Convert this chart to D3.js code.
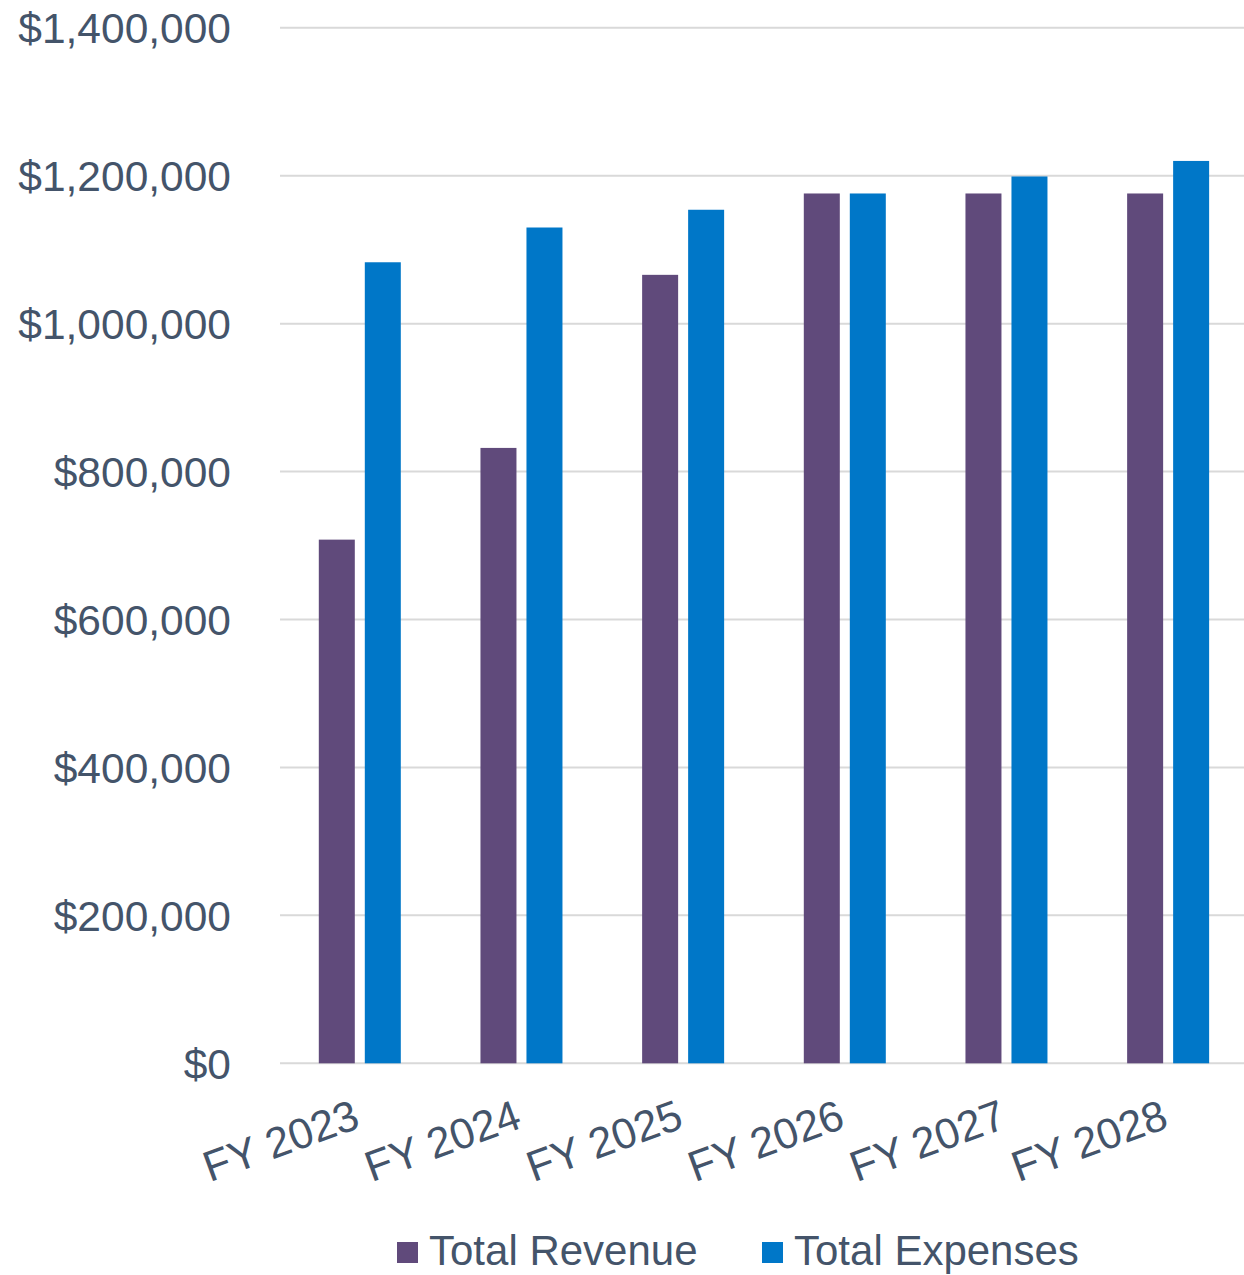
<!DOCTYPE html>
<html>
<head>
<meta charset="utf-8">
<script src="https://cdn.jsdelivr.net/npm/d3@7"></script>
<style>
  body { margin: 0; background: #fff; }
  text { font-family: "Liberation Sans", Arial, sans-serif; fill: #44546A; }
</style>
</head>
<body>
<div id="chart"></div>
<script>
// chart data
const years = ["FY 2023", "FY 2024", "FY 2025", "FY 2026", "FY 2027", "FY 2028"];
const seriesNames = ["Total Revenue", "Total Expenses"];
const revenue = [708000, 832000, 1066000, 1176000, 1176000, 1176000];
const expenses = [1083000, 1130000, 1154000, 1176000, 1199000, 1220000];
const yTicks = [0, 200000, 400000, 600000, 800000, 1000000, 1200000, 1400000];
const colors = ["#604A7B", "#0077C8"];

const width = 1244
const height = 1275
const fontSize = 43

const rows = years.map((y, i) => ({ year: y, values: [revenue[i], expenses[i]] }))

const svg = d3.select("#chart")
    .append("svg")
    .attr("width", width)
    .attr("height", height)

const x = d3.scaleBand()
    .domain(years)
    .range([279, 1249])

const xInner = d3.scaleBand()
    .domain(seriesNames)
    .range([39.8, 121.8])
    .paddingInner(10 / 46)

const y = d3.scaleLinear()
    .domain([0, 1400000])
    .range([1063.3, 27.8])

// gridlines
svg.append("g")
    .selectAll("line")
    .data(yTicks)
    .join("line")
    .attr("x1", 280)
    .attr("x2", width)
    .attr("y1", d => y(d))
    .attr("y2", d => y(d))
    .attr("stroke", "#D9D9D9")
    .attr("stroke-width", 2)

// y axis labels
const yAxis = g => g
    .attr("transform", "translate(231,0)")
    .call(d3.axisLeft(y)
        .tickValues(yTicks)
        .tickSize(0)
        .tickPadding(0)
        .tickFormat(d => "$" + d3.format(",")(d)))
    .call(g => g.select(".domain").remove())
    .call(g => g.selectAll("text")
        .attr("font-size", 42.5)
        .attr("font-family", null)
        .attr("fill", null)
        .attr("dy", "0.35em"))

svg.append("g").call(yAxis)

// bars
svg.append("g")
    .selectAll("g")
    .data(rows)
    .join("g")
    .attr("transform", d => `translate(${x(d.year)},0)`)
    .selectAll("rect")
    .data(d => d.values.map((v, i) => ({ name: seriesNames[i], value: v, i })))
    .join("rect")
    .attr("x", d => xInner(d.name))
    .attr("width", xInner.bandwidth())
    .attr("y", d => y(d.value))
    .attr("height", d => y(0) - y(d.value))
    .attr("fill", d => colors[d.i])

// x axis labels, rotated
svg.append("g")
    .selectAll("text")
    .data(years)
    .join("text")
    .attr("transform", d => `translate(${x(d) + x.bandwidth() / 2 + 2},1127) rotate(-20)`)
    .attr("text-anchor", "end")
    .attr("font-size", fontSize)
    .text(d => d)

// legend
const legendX = [397, 762]
const legend = svg.append("g")
    .selectAll("g")
    .data(seriesNames)
    .join("g")
    .attr("transform", (d, i) => `translate(${legendX[i]},1242)`)

legend.append("rect")
    .attr("width", 21)
    .attr("height", 21)
    .attr("fill", (d, i) => colors[i])

legend.append("text")
    .attr("x", 32)
    .attr("y", 23)
    .attr("font-size", 42)
    .text(d => d)
</script>
</body>
</html>
